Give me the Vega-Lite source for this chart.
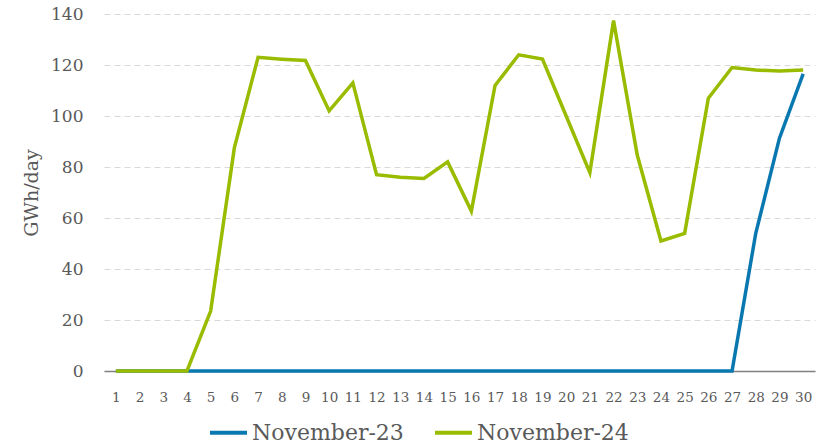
{
  "$schema": "https://vega.github.io/schema/vega-lite/v6.json",
  "width": 711,
  "height": 357,
  "autosize": {"type": "none"},
  "padding": {"left": 104, "top": 14, "right": 12, "bottom": 76},
  "background": "white",
  "config": {
    "view": {"stroke": null},
    "font": "DejaVu Serif"
  },
  "data": {
    "values": [
      {"day": 1, "series": "November-23", "v": 0},
      {"day": 2, "series": "November-23", "v": 0},
      {"day": 3, "series": "November-23", "v": 0},
      {"day": 4, "series": "November-23", "v": 0},
      {"day": 5, "series": "November-23", "v": 0},
      {"day": 6, "series": "November-23", "v": 0},
      {"day": 7, "series": "November-23", "v": 0},
      {"day": 8, "series": "November-23", "v": 0},
      {"day": 9, "series": "November-23", "v": 0},
      {"day": 10, "series": "November-23", "v": 0},
      {"day": 11, "series": "November-23", "v": 0},
      {"day": 12, "series": "November-23", "v": 0},
      {"day": 13, "series": "November-23", "v": 0},
      {"day": 14, "series": "November-23", "v": 0},
      {"day": 15, "series": "November-23", "v": 0},
      {"day": 16, "series": "November-23", "v": 0},
      {"day": 17, "series": "November-23", "v": 0},
      {"day": 18, "series": "November-23", "v": 0},
      {"day": 19, "series": "November-23", "v": 0},
      {"day": 20, "series": "November-23", "v": 0},
      {"day": 21, "series": "November-23", "v": 0},
      {"day": 22, "series": "November-23", "v": 0},
      {"day": 23, "series": "November-23", "v": 0},
      {"day": 24, "series": "November-23", "v": 0},
      {"day": 25, "series": "November-23", "v": 0},
      {"day": 26, "series": "November-23", "v": 0},
      {"day": 27, "series": "November-23", "v": 0},
      {"day": 28, "series": "November-23", "v": 54},
      {"day": 29, "series": "November-23", "v": 91.3},
      {"day": 30, "series": "November-23", "v": 116.5},
      {"day": 1, "series": "November-24", "v": 0},
      {"day": 2, "series": "November-24", "v": 0},
      {"day": 3, "series": "November-24", "v": 0},
      {"day": 4, "series": "November-24", "v": 0},
      {"day": 5, "series": "November-24", "v": 23.5},
      {"day": 6, "series": "November-24", "v": 87.5},
      {"day": 7, "series": "November-24", "v": 123},
      {"day": 8, "series": "November-24", "v": 122.3},
      {"day": 9, "series": "November-24", "v": 121.8},
      {"day": 10, "series": "November-24", "v": 102},
      {"day": 11, "series": "November-24", "v": 113},
      {"day": 12, "series": "November-24", "v": 77},
      {"day": 13, "series": "November-24", "v": 76},
      {"day": 14, "series": "November-24", "v": 75.5},
      {"day": 15, "series": "November-24", "v": 82},
      {"day": 16, "series": "November-24", "v": 62.7},
      {"day": 17, "series": "November-24", "v": 112},
      {"day": 18, "series": "November-24", "v": 124},
      {"day": 19, "series": "November-24", "v": 122.3},
      {"day": 20, "series": "November-24", "v": 100},
      {"day": 21, "series": "November-24", "v": 77.8},
      {"day": 22, "series": "November-24", "v": 137.4},
      {"day": 23, "series": "November-24", "v": 84.7},
      {"day": 24, "series": "November-24", "v": 51},
      {"day": 25, "series": "November-24", "v": 54},
      {"day": 26, "series": "November-24", "v": 107},
      {"day": 27, "series": "November-24", "v": 119},
      {"day": 28, "series": "November-24", "v": 118},
      {"day": 29, "series": "November-24", "v": 117.6},
      {"day": 30, "series": "November-24", "v": 118}
    ]
  },
  "mark": {"type": "line", "strokeWidth": 3.5, "strokeJoin": "miter", "clip": false},
  "encoding": {
    "x": {
      "field": "day",
      "type": "ordinal",
      "sort": "ascending",
      "scale": {"type": "point", "padding": 0.5},
      "axis": {
        "title": null,
        "labelAngle": 0,
        "labelFont": "DejaVu Serif",
        "labelFontSize": 13.5,
        "labelColor": "#595959",
        "labelPadding": 19,
        "ticks": false,
        "domain": true,
        "domainColor": "#808080",
        "domainWidth": 1.5,
        "grid": false
      }
    },
    "y": {
      "field": "v",
      "type": "quantitative",
      "scale": {"domain": [0, 140], "nice": false, "zero": true},
      "axis": {
        "title": "GWh/day",
        "titleFont": "DejaVu Serif",
        "titleFontSize": 19,
        "titleFontWeight": "normal",
        "titleColor": "#595959",
        "titlePadding": 9,
        "values": [0, 20, 40, 60, 80, 100, 120, 140],
        "labelFont": "DejaVu Serif",
        "labelFontSize": 17,
        "labelColor": "#595959",
        "labelPadding": 21,
        "ticks": false,
        "domain": false,
        "grid": true,
        "gridColor": "#d9d9d9",
        "gridDash": [6, 4],
        "gridWidth": 1
      }
    },
    "color": {
      "field": "series",
      "type": "nominal",
      "scale": {"domain": ["November-23", "November-24"], "range": ["#0a78b0", "#99bb00"]},
      "legend": {
        "title": null,
        "orient": "none",
        "direction": "horizontal",
        "legendX": 104,
        "legendY": 398,
        "symbolType": "stroke",
        "symbolSize": 1369,
        "symbolStrokeWidth": 4,
        "labelFont": "DejaVu Serif",
        "labelFontSize": 22,
        "labelColor": "#595959",
        "labelOffset": 3,
        "columnPadding": 23,
        "labelLimit": 300
      }
    },
    "order": {"field": "series"}
  }
}
